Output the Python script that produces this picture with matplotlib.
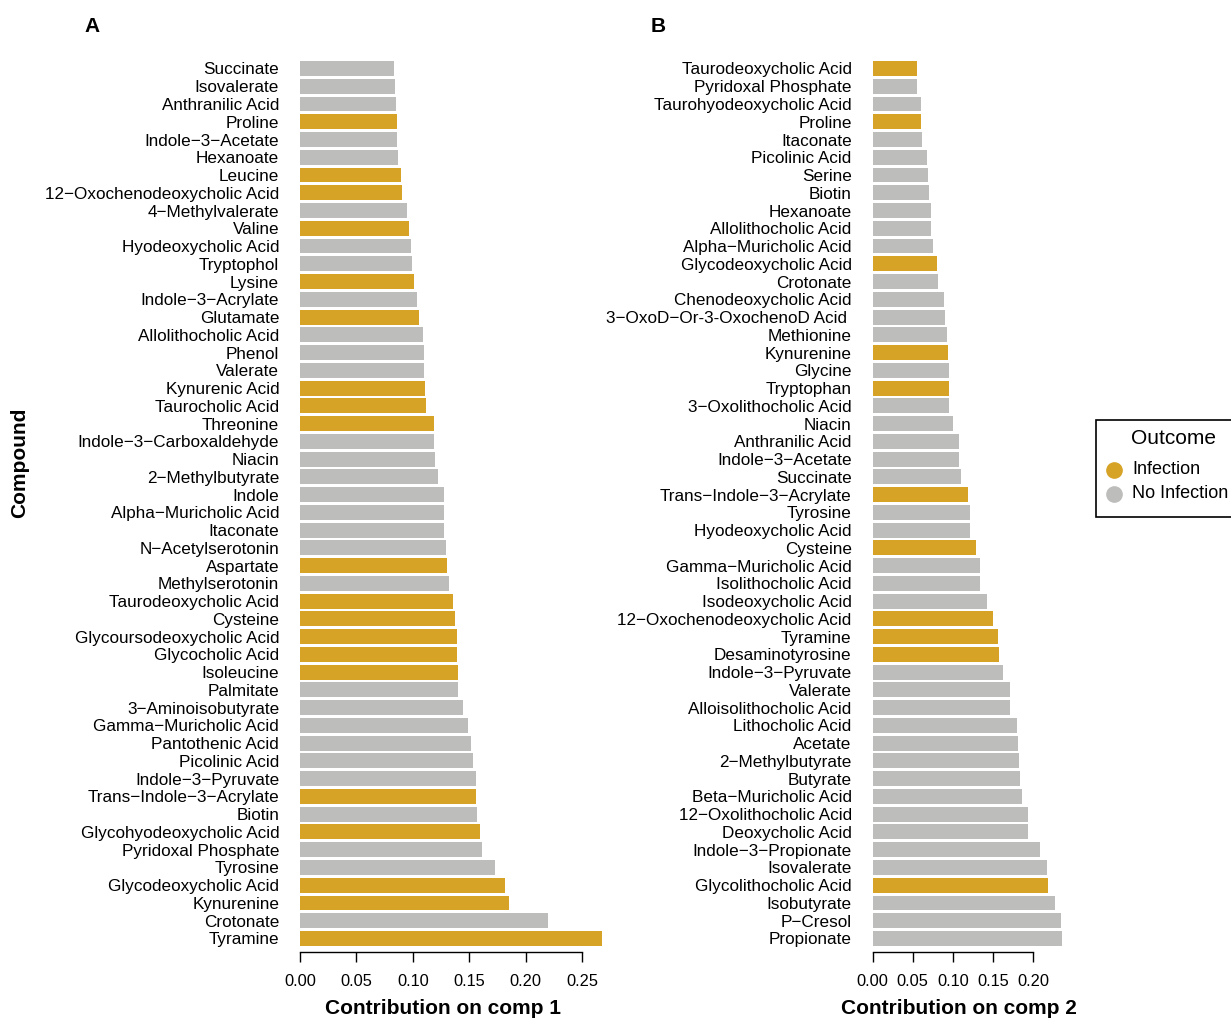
import matplotlib
matplotlib.use('Agg')
import matplotlib.pyplot as plt
from matplotlib.lines import Line2D
from matplotlib.patches import Rectangle

plt.rcParams['font.family'] = ['Liberation Sans', 'DejaVu Sans']

GOLD = '#D6A327'
GREY = '#BDBDBB'

# component 1 loadings, listed top to bottom
comp1_names = [
    "Succinate", "Isovalerate", "Anthranilic Acid", "Proline", "Indole−3−Acetate",
    "Hexanoate", "Leucine", "12−Oxochenodeoxycholic Acid", "4−Methylvalerate", "Valine",
    "Hyodeoxycholic Acid", "Tryptophol", "Lysine", "Indole−3−Acrylate", "Glutamate",
    "Allolithocholic Acid", "Phenol", "Valerate", "Kynurenic Acid", "Taurocholic Acid",
    "Threonine", "Indole−3−Carboxaldehyde", "Niacin", "2−Methylbutyrate", "Indole",
    "Alpha−Muricholic Acid", "Itaconate", "N−Acetylserotonin", "Aspartate", "Methylserotonin",
    "Taurodeoxycholic Acid", "Cysteine", "Glycoursodeoxycholic Acid", "Glycocholic Acid", "Isoleucine",
    "Palmitate", "3−Aminoisobutyrate", "Gamma−Muricholic Acid", "Pantothenic Acid", "Picolinic Acid",
    "Indole−3−Pyruvate", "Trans−Indole−3−Acrylate", "Biotin", "Glycohyodeoxycholic Acid", "Pyridoxal Phosphate",
    "Tyrosine", "Glycodeoxycholic Acid", "Kynurenine", "Crotonate", "Tyramine",
]
comp1_values = [
    0.0833, 0.0842, 0.0851, 0.0860, 0.0860, 0.0869, 0.0895, 0.0904, 0.0949, 0.0966,
    0.0984, 0.0993, 0.1011, 0.1037, 0.1055, 0.1090, 0.1099, 0.1099, 0.1108, 0.1117,
    0.1188, 0.1188, 0.1197, 0.1223, 0.1277, 0.1277, 0.1277, 0.1294, 0.1303, 0.1321,
    0.1356, 0.1374, 0.1392, 0.1392, 0.1401, 0.1401, 0.1445, 0.1489, 0.1516, 0.1534,
    0.1560, 0.1560, 0.1569, 0.1596, 0.1613, 0.1729, 0.1817, 0.1853, 0.2199, 0.2677,
]
# 1 = contributes to Infection, 0 = No Infection
comp1_infection = [
    0, 0, 0, 1, 0, 0, 1, 1, 0, 1,
    0, 0, 1, 0, 1, 0, 0, 0, 1, 1,
    1, 0, 0, 0, 0, 0, 0, 0, 1, 0,
    1, 1, 1, 1, 1, 0, 0, 0, 0, 0,
    0, 1, 0, 1, 0, 0, 1, 1, 0, 1,
]

# component 2 loadings, listed top to bottom
comp2_names = [
    "Taurodeoxycholic Acid", "Pyridoxal Phosphate", "Taurohyodeoxycholic Acid", "Proline", "Itaconate",
    "Picolinic Acid", "Serine", "Biotin", "Hexanoate", "Allolithocholic Acid",
    "Alpha−Muricholic Acid", "Glycodeoxycholic Acid", "Crotonate", "Chenodeoxycholic Acid", "3−OxoD−Or-3-OxochenoD Acid ",
    "Methionine", "Kynurenine", "Glycine", "Tryptophan", "3−Oxolithocholic Acid",
    "Niacin", "Anthranilic Acid", "Indole−3−Acetate", "Succinate", "Trans−Indole−3−Acrylate",
    "Tyrosine", "Hyodeoxycholic Acid", "Cysteine", "Gamma−Muricholic Acid", "Isolithocholic Acid",
    "Isodeoxycholic Acid", "12−Oxochenodeoxycholic Acid", "Tyramine", "Desaminotyrosine", "Indole−3−Pyruvate",
    "Valerate", "Alloisolithocholic Acid", "Lithocholic Acid", "Acetate", "2−Methylbutyrate",
    "Butyrate", "Beta−Muricholic Acid", "12−Oxolithocholic Acid", "Deoxycholic Acid", "Indole−3−Propionate",
    "Isovalerate", "Glycolithocholic Acid", "Isobutyrate", "P−Cresol", "Propionate",
]
comp2_values = [
    0.0557, 0.0557, 0.0607, 0.0607, 0.0620, 0.0682, 0.0694, 0.0707, 0.0732, 0.0732,
    0.0757, 0.0807, 0.0819, 0.0894, 0.0906, 0.0931, 0.0944, 0.0956, 0.0956, 0.0956,
    0.1006, 0.1081, 0.1081, 0.1106, 0.1193, 0.1218, 0.1218, 0.1281, 0.1343, 0.1343,
    0.1418, 0.1493, 0.1555, 0.1568, 0.1617, 0.1705, 0.1705, 0.1792, 0.1805, 0.1817,
    0.1830, 0.1855, 0.1929, 0.1929, 0.2079, 0.2166, 0.2179, 0.2266, 0.2341, 0.2353,
]
comp2_infection = [
    1, 0, 0, 1, 0, 0, 0, 0, 0, 0,
    0, 1, 0, 0, 0, 0, 1, 0, 1, 0,
    0, 0, 0, 0, 1, 0, 0, 1, 0, 0,
    0, 1, 1, 1, 0, 0, 0, 0, 0, 0,
    0, 0, 0, 0, 0, 0, 1, 0, 0, 0,
]

comp1_ticks = [0.00, 0.05, 0.10, 0.15, 0.20, 0.25]
comp2_ticks = [0.00, 0.05, 0.10, 0.15, 0.20]

outcome_labels = ['Infection', 'No Infection']
outcome_colors = [GOLD, GREY]


def draw_panel(ax, names, values, infection, ticks, xmax):
    pos = list(range(len(names)))
    colors = [GOLD if f else GREY for f in infection]
    ax.barh(pos, values, height=0.84, color=colors, clip_on=False)
    ax.set_ylim(len(names) - 0.5, -0.5)
    ax.set_xlim(0, xmax)
    ax.set_yticks(pos)
    ax.set_yticklabels(names)
    ax.tick_params(axis='y', length=0, pad=15, labelsize=12.3)
    ax.set_xticks(ticks)
    ax.set_xticklabels([f'{t:.2f}' for t in ticks])
    ax.tick_params(axis='x', length=7, width=1, pad=9, labelsize=11.8)
    for side in ['left', 'top', 'right']:
        ax.spines[side].set_visible(False)
    ax.spines['bottom'].set_position(('outward', 3))
    ax.spines['bottom'].set_bounds(ticks[0], ticks[-1])
    ax.spines['bottom'].set_linewidth(1)


fig = plt.figure(figsize=(12.31, 10.19), dpi=100)

ax1 = fig.add_axes([0.2437, 0.0703, 0.2565, 0.8712])
draw_panel(ax1, comp1_names, comp1_values, comp1_infection, comp1_ticks, 0.28)

ax2 = fig.add_axes([0.7088, 0.0703, 0.1600, 0.8712])
draw_panel(ax2, comp2_names, comp2_values, comp2_infection, comp2_ticks, 0.245)

W, H = 1231, 1019


def fx(px):
    return px / W


def fy(py):
    return 1 - py / H


fig.text(fx(443), fy(1008), 'Contribution on comp 1', fontsize=15,
         fontweight='bold', ha='center', va='center')
fig.text(fx(959), fy(1008), 'Contribution on comp 2', fontsize=15,
         fontweight='bold', ha='center', va='center')
fig.text(fx(20), fy(463), 'Compound', fontsize=15, fontweight='bold',
         rotation=90, ha='center', va='center')
fig.text(fx(92), fy(26), 'A', fontsize=15, fontweight='bold', ha='center', va='center')
fig.text(fx(658), fy(26), 'B', fontsize=15, fontweight='bold', ha='center', va='center')

# legend box, runs off the right edge of the figure
fig.add_artist(Rectangle((fx(1096), fy(517)), fx(160), 97 / H, transform=fig.transFigure,
                         facecolor='white', edgecolor='black', linewidth=1.2))
fig.text(fx(1174), fy(438), 'Outcome', fontsize=15, ha='center', va='center')
for i, (lab, col) in enumerate(zip(outcome_labels, outcome_colors)):
    yy = fy(470 + 24 * i)
    fig.add_artist(Line2D([fx(1114)], [yy], transform=fig.transFigure, marker='o',
                          markersize=11, markerfacecolor=col, markeredgecolor=col,
                          linestyle='none'))
    fig.text(fx(1132), yy, lab, fontsize=13, ha='left', va='center')

fig.savefig('out.png', dpi=100)
